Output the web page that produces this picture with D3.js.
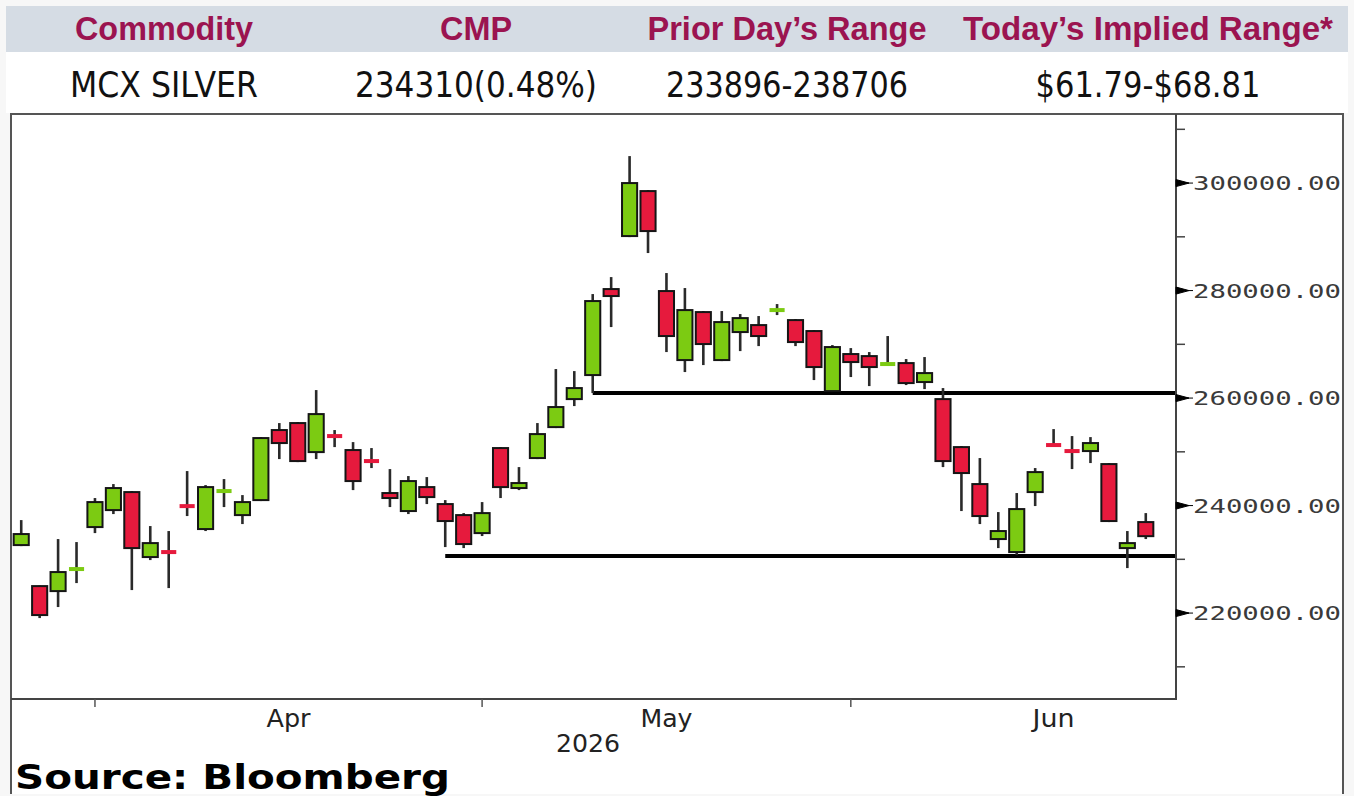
<!DOCTYPE html>
<html>
    <head>
        <meta charset="UTF-8">
        <script src="https://d3js.org/d3.v7.min.js"></script>
        <style>
            body { margin: 0; background: #f7f7f7; }
        </style>
    </head>

    <body>

        <svg id="canvas"></svg>

        <script>

            // ---- table ----
            header = ["Commodity", "CMP", "Prior Day\u2019s Range", "Today\u2019s Implied Range*"];
            rowValues = ["MCX SILVER", "234310(0.48%)", "233896-238706", "$61.79-$68.81"];

            // ---- candles (daily, 2026) ----
            dates = [
                "2026-03-26","2026-03-27","2026-03-30","2026-03-31",
                "2026-04-01","2026-04-02","2026-04-06","2026-04-07","2026-04-08","2026-04-09","2026-04-10",
                "2026-04-13","2026-04-14","2026-04-15","2026-04-16","2026-04-17",
                "2026-04-20","2026-04-21","2026-04-22","2026-04-23","2026-04-24",
                "2026-04-27","2026-04-28","2026-04-29","2026-04-30",
                "2026-05-01","2026-05-04","2026-05-05","2026-05-06","2026-05-07","2026-05-08",
                "2026-05-11","2026-05-12","2026-05-13","2026-05-14","2026-05-15",
                "2026-05-18","2026-05-19","2026-05-20","2026-05-21","2026-05-22",
                "2026-05-26","2026-05-27","2026-05-28","2026-05-29",
                "2026-06-01","2026-06-02","2026-06-03","2026-06-04","2026-06-05",
                "2026-06-08","2026-06-09","2026-06-10","2026-06-11","2026-06-12",
                "2026-06-15","2026-06-16","2026-06-17","2026-06-18","2026-06-19",
                "2026-06-22","2026-06-23"
            ];

            opens = [
                232650, 225020, 224090, 228100, 236000, 239160, 242510, 230420, 231400, 239950,
                235630, 242650, 238230, 241020, 254050, 255350, 249950, 252980, 250330, 248330,
                242330, 238980, 243440, 240280, 238230, 234880, 250700, 243260, 248840, 254600,
                259810, 264280, 280280, 290140, 298510, 279910, 267070, 276000, 267070, 272280,
                273580, 276320, 274510, 272470, 261300, 268190, 267810, 266280, 266510, 262980,
                259810, 250880, 244000, 233770, 231350, 242510, 251310, 250190, 250140, 247720,
                232090, 236930
            ];
            highs = [
                237300, 225100, 233770, 233210, 241400, 244000, 242700, 236190, 235260, 246420,
                243810, 244930, 241950, 252740, 255350, 255530, 261490, 254050, 251810, 250700,
                246790, 245490, 245300, 241020, 238600, 240650, 250880, 247160, 255350, 265400,
                265020, 279350, 282510, 305020, 298700, 283260, 280470, 276190, 276190, 275630,
                275260, 277490, 274700, 272650, 269860, 269300, 268560, 271540, 267260, 267630,
                261860, 251070, 248840, 238790, 242330, 246980, 254230, 252930, 252740, 247910,
                235260, 238600
            ];
            lows = [
                232460, 219070, 221120, 225580, 234880, 238420, 224280, 229860, 224650, 238050,
                235260, 239720, 236560, 240840, 248650, 248090, 248650, 250880, 242880, 246980,
                239720, 238420, 240280, 232280, 232090, 234330, 241400, 242880, 248650, 254420,
                258510, 260930, 273210, 289950, 286980, 268560, 264840, 266140, 266880, 268740,
                269670, 275440, 269670, 263350, 261120, 263910, 262230, 266140, 262420, 261670,
                247160, 238980, 236560, 232090, 230790, 239910, 251070, 246790, 247910, 236930,
                228370, 233770
            ];
            closes = [
                234700, 219630, 227630, 228190, 240650, 243260, 232090, 233020, 231350, 239900,
                243440, 242700, 240650, 252560, 251630, 248280, 257020, 252930, 244560, 248280,
                241400, 244560, 241580, 237120, 232840, 238600, 243440, 244190, 253300, 258330,
                261860, 278050, 278980, 300000, 291070, 271540, 276370, 270050, 274140, 274880,
                271540, 276370, 270420, 265770, 269490, 266700, 265770, 266330, 262790, 264650,
                248280, 246050, 238050, 235260, 239350, 246230, 251260, 250140, 251630, 237120,
                233020, 234310
            ];

            // horizontal support lines drawn on the chart
            supportLevels = [260930, 230600];
            supportFrom = ["2026-05-11", "2026-04-29"];

            // axes
            yMajorTicks = [220000, 240000, 260000, 280000, 300000];
            yMinorTicks = [210000, 230000, 250000, 270000, 290000, 310000];
            monthLabels = ["Apr", "May", "Jun"];
            monthStarts = ["2026-04-01", "2026-05-01", "2026-06-01"];
            monthTradingDays = [21, 20, 22];
            yearLabel = "2026";
            sourceText = "Source: Bloomberg";

            // ---- layout ----
            width = 1354;
            height = 796;
            plotLeft = 11;
            plotRight = 1176;
            plotTop = 114;
            plotBottom = 699;
            colX = [164, 476, 787, 1148];
            headerWidths = [178, 72, 279, 370];
            rowWidths = [188, 242, 242, 225];

            green = "#7ccb12";
            red = "#e61a3d";
            maroon = "#9b1450";

            canvas = d3.select("#canvas")
                .attr("width", width)
                .attr("height", height);

            // table
            canvas.append("rect")
                .attr("x", 6).attr("y", 6)
                .attr("width", 1342).attr("height", 46)
                .attr("fill", "#d5dce4");
            canvas.append("rect")
                .attr("x", 6).attr("y", 52)
                .attr("width", 1342).attr("height", 61)
                .attr("fill", "#ffffff");

            canvas.selectAll(".hdr")
                .data(header)
                .enter().append("text")
                    .attr("class", "hdr")
                    .attr("x", (d,i) => colX[i])
                    .attr("y", 40)
                    .attr("text-anchor", "middle")
                    .attr("textLength", (d,i) => headerWidths[i])
                    .attr("lengthAdjust", "spacingAndGlyphs")
                    .style("font-family", "'Liberation Sans Narrow', 'Arial Narrow', 'Liberation Sans', sans-serif")
                    .style("font-weight", "bold")
                    .style("font-size", "33px")
                    .style("fill", maroon)
                    .text(d => d);

            canvas.selectAll(".val")
                .data(rowValues)
                .enter().append("text")
                    .attr("class", "val")
                    .attr("x", (d,i) => colX[i])
                    .attr("y", 97)
                    .attr("text-anchor", "middle")
                    .attr("textLength", (d,i) => rowWidths[i])
                    .attr("lengthAdjust", "spacingAndGlyphs")
                    .style("font-family", "'DejaVu Sans', sans-serif")
                    .style("font-size", "35px")
                    .style("fill", "#111")
                    .text(d => d);

            // chart panel
            canvas.append("rect")
                .attr("x", 10).attr("y", 113)
                .attr("width", 1334).attr("height", 681)
                .attr("fill", "#ffffff");
            canvas.append("path")
                .attr("d", "M11,794 V114 H1343 V794")
                .attr("style", "fill:none; stroke:#555; stroke-width:2;");

            // scales
            x = d3.scaleBand()
                .domain(dates)
                .range([12, 1155])
                .paddingInner(0.18)
                .paddingOuter(0.09);
            step = x.step();
            bw = x.bandwidth();
            cx = d => x(d) + bw/2;

            y = d3.scaleLinear()
                .domain([204200, 312850])
                .range([plotBottom - 1, plotTop]);

            candles = dates.map((d,i) => ({
                date: d, o: opens[i], h: highs[i], l: lows[i], c: closes[i]
            }));

            // support lines
            canvas.selectAll(".support")
                .data(supportLevels)
                .enter().append("line")
                    .attr("x1", (d,i) => cx(supportFrom[i]))
                    .attr("x2", plotRight)
                    .attr("y1", d => y(d)).attr("y2", d => y(d))
                    .attr("style", "stroke:#000; stroke-width:4;");

            // wicks
            canvas.selectAll(".wick")
                .data(candles)
                .enter().append("line")
                    .attr("x1", d => cx(d.date)).attr("x2", d => cx(d.date))
                    .attr("y1", d => y(d.h)).attr("y2", d => y(d.l))
                    .attr("style", "stroke:#2a2a2a; stroke-width:2.6;");

            isDoji = d => Math.abs(y(d.o) - y(d.c)) < 1.5;

            // bodies
            canvas.selectAll(".body")
                .data(candles.filter(d => !isDoji(d)))
                .enter().append("rect")
                    .attr("x", d => x(d.date))
                    .attr("width", bw)
                    .attr("y", d => y(Math.max(d.o, d.c)))
                    .attr("height", d => Math.abs(y(d.o) - y(d.c)))
                    .attr("fill", d => d.c >= d.o ? green : red)
                    .attr("style", "stroke:#151515; stroke-width:2;");

            // doji bars
            canvas.selectAll(".doji")
                .data(candles.filter(isDoji))
                .enter().append("line")
                    .attr("x1", d => x(d.date)).attr("x2", d => x(d.date) + bw)
                    .attr("y1", d => y(d.c)).attr("y2", d => y(d.c))
                    .attr("stroke", d => d.c >= d.o ? green : red)
                    .attr("stroke-width", 4);

            // right axis
            canvas.append("path")
                .attr("d", "M" + plotLeft + "," + plotBottom + " H" + plotRight + " V" + plotTop)
                .attr("style", "fill:none; stroke:#444; stroke-width:2;");

            canvas.selectAll(".minor")
                .data(yMinorTicks)
                .enter().append("line")
                    .attr("x1", plotRight).attr("x2", plotRight + 9)
                    .attr("y1", d => y(d)).attr("y2", d => y(d))
                    .attr("style", "stroke:#444; stroke-width:1.5;");

            major = canvas.selectAll(".major")
                .data(yMajorTicks)
                .enter().append("g")
                    .attr("transform", d => "translate(" + plotRight + "," + y(d) + ")");
            major.append("path")
                .attr("d", "M0,-3.5 L13,0 L0,3.5 Z M0,0 H17")
                .attr("style", "fill:#000; stroke:#000; stroke-width:1;");
            major.append("text")
                .attr("x", 17)
                .attr("y", 7)
                .attr("textLength", 148)
                .attr("lengthAdjust", "spacingAndGlyphs")
                .style("font-family", "'DejaVu Sans Mono', monospace")
                .style("font-size", "20px")
                .style("fill", "#3a3a3a")
                .text(d => d3.format(".2f")(d));

            // bottom axis: month boundaries and labels
            canvas.selectAll(".mtick")
                .data(monthStarts)
                .enter().append("line")
                    .attr("x1", d => cx(d)).attr("x2", d => cx(d))
                    .attr("y1", plotBottom).attr("y2", plotBottom + 8)
                    .attr("style", "stroke:#555; stroke-width:1.5;");

            labelWidths = [44, 52, 42];
            canvas.selectAll(".mlabel")
                .data(monthLabels)
                .enter().append("text")
                    .attr("x", (d,i) => cx(monthStarts[i]) + monthTradingDays[i]*step/2)
                    .attr("y", 727)
                    .attr("text-anchor", "middle")
                    .attr("textLength", (d,i) => labelWidths[i])
                    .attr("lengthAdjust", "spacingAndGlyphs")
                    .style("font-family", "'Liberation Sans Narrow', 'DejaVu Sans Condensed', sans-serif")
                    .style("font-size", "24px")
                    .style("fill", "#222")
                    .text(d => d);

            canvas.append("text")
                .attr("x", 588)
                .attr("y", 752)
                .attr("text-anchor", "middle")
                .attr("textLength", 64)
                .attr("lengthAdjust", "spacingAndGlyphs")
                .style("font-family", "'Liberation Sans Narrow', 'DejaVu Sans Condensed', sans-serif")
                .style("font-size", "24px")
                .style("fill", "#222")
                .text(yearLabel);

            canvas.append("text")
                .attr("x", 15)
                .attr("y", 789)
                .attr("textLength", 435)
                .attr("lengthAdjust", "spacingAndGlyphs")
                .style("font-family", "'DejaVu Sans', sans-serif")
                .style("font-weight", "bold")
                .style("font-size", "33px")
                .style("fill", "#000")
                .text(sourceText);

        </script>

    </body>

</html>
